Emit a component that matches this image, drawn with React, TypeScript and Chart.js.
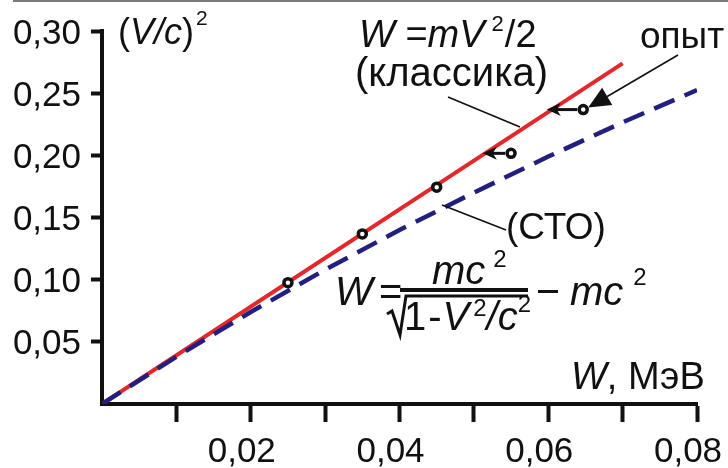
import React, { useEffect, useRef } from 'react';
import { Chart, registerables } from 'chart.js';

Chart.register(...registerables);

// ---- data ----
const classicW = [0, 0.07];
const classicV2 = [0, 0.274];

const relW = [0, 0.01, 0.02, 0.03, 0.04, 0.05, 0.06, 0.07, 0.08];
const relV2 = [0, 0.038, 0.074, 0.108, 0.14, 0.17, 0.199, 0.2265, 0.2525];

const expW = [0.025, 0.035, 0.045, 0.055, 0.0647];
const expV2 = [0.0976, 0.1368, 0.1744, 0.2016, 0.2368];
// where the shifted experimental points land (arrows), null = no arrow
const expShiftW: (number | null)[] = [null, null, null, 0.0512, 0.0598];

const xTickValues = [0.02, 0.04, 0.06, 0.08];

const FONT = '"Liberation Sans", Arial, Helvetica, sans-serif';
const font = (size: number, italic = false) => `${italic ? 'italic ' : ''}${size}px ${FONT}`;
const INK = '#111111';

type Run = { t: string; size: number; italic?: boolean; rise?: number; gap?: number };

function drawRuns(ctx: CanvasRenderingContext2D, x: number, y: number, runs: Run[]) {
  let cx = x;
  for (const r of runs) {
    cx += r.gap || 0;
    ctx.font = font(r.size, r.italic);
    ctx.fillText(r.t, cx, y - (r.rise || 0));
    cx += ctx.measureText(r.t).width;
  }
  return cx;
}

function line(ctx: CanvasRenderingContext2D, pts: number[][], w: number) {
  ctx.beginPath();
  ctx.moveTo(pts[0][0], pts[0][1]);
  for (let i = 1; i < pts.length; i++) ctx.lineTo(pts[i][0], pts[i][1]);
  ctx.lineWidth = w;
  ctx.stroke();
}

const annotationPlugin = {
  id: 'annotations',
  afterDatasetsDraw(chart: any) {
    const ctx: CanvasRenderingContext2D = chart.ctx;
    const xs = chart.scales.x;
    const ys = chart.scales.y;
    ctx.save();
    ctx.strokeStyle = INK;
    ctx.fillStyle = INK;
    // arrows from experimental points to the classical line
    expShiftW.forEach((tw, i) => {
      if (tw == null) return;
      const px = xs.getPixelForValue(expW[i]);
      const py = ys.getPixelForValue(expV2[i]);
      const tx = xs.getPixelForValue(tw);
      line(ctx, [[px - 6, py], [tx + 9, py]], 3);
      ctx.beginPath();
      ctx.moveTo(tx, py);
      ctx.lineTo(tx + 14, py - 6.5);
      ctx.lineTo(tx + 10, py);
      ctx.lineTo(tx + 14, py + 6.5);
      ctx.closePath();
      ctx.fill();
    });
    ctx.restore();
  },
  afterDraw(chart: any) {
    const ctx: CanvasRenderingContext2D = chart.ctx;
    const xs = chart.scales.x;
    const ys = chart.scales.y;
    ctx.save();
    ctx.fillStyle = '#7a7a7a';
    ctx.fillRect(13, 0, 715, 2);

    ctx.fillStyle = INK;
    ctx.strokeStyle = INK;
    ctx.textBaseline = 'alphabetic';
    ctx.textAlign = 'left';

    // y axis title
    drawRuns(ctx, 118, 44, [
      { t: '(', size: 36 },
      { t: 'V/c', size: 36, italic: true },
      { t: ')', size: 36 },
      { t: '2', size: 21, rise: 19, gap: 2 },
    ]);
    // x axis title
    drawRuns(ctx, 571, 389, [
      { t: 'W', size: 38, italic: true },
      { t: ', МэВ', size: 38 },
    ]);

    // classical label
    drawRuns(ctx, 359, 47, [
      { t: 'W', size: 38, italic: true },
      { t: ' =', size: 38 },
      { t: 'mV', size: 38, italic: true },
      { t: '2', size: 22, rise: 16, gap: 7 },
      { t: '/2', size: 38, gap: 1 },
    ]);
    drawRuns(ctx, 355, 86, [{ t: '(классика)', size: 40 }]);
    line(ctx, [[448, 97], [520, 127]], 1.6);

    // experiment label
    drawRuns(ctx, 640, 48, [{ t: 'опыт', size: 37 }]);
    {
      const px = xs.getPixelForValue(expW[4]);
      const py = ys.getPixelForValue(expV2[4]);
      const sx = 678, sy = 55;
      const tipX = px + 5, tipY = py - 2;
      const dx = tipX - sx, dy = tipY - sy;
      const L = Math.hypot(dx, dy);
      const ux = dx / L, uy = dy / L;
      const bx = tipX - ux * 22, by = tipY - uy * 22;
      line(ctx, [[sx, sy], [bx, by]], 1.6);
      ctx.beginPath();
      ctx.moveTo(tipX, tipY);
      ctx.lineTo(bx - uy * 10, by + ux * 10);
      ctx.lineTo(bx + uy * 10, by - ux * 10);
      ctx.closePath();
      ctx.fill();
    }

    // relativistic label
    drawRuns(ctx, 506, 239, [{ t: '(СТО)', size: 37 }]);
    line(ctx, [[442, 205], [506, 230]], 1.6);

    // formula
    drawRuns(ctx, 335, 305, [{ t: 'W', size: 40, italic: true }]);
    drawRuns(ctx, 379, 305, [{ t: '=', size: 40 }]);
    ctx.fillRect(400, 288, 128, 4);
    drawRuns(ctx, 432, 284, [
      { t: 'mc', size: 40, italic: true },
      { t: '2', size: 24, rise: 17, gap: 8 },
    ]);
    ctx.lineJoin = 'miter';
    line(ctx, [[387, 314], [392, 311], [400, 335], [406, 296], [528, 296]], 3);
    drawRuns(ctx, 404, 330, [
      { t: '1', size: 40 },
      { t: '-', size: 40, gap: 2 },
      { t: 'V', size: 40, italic: true, gap: 1 },
      { t: '2', size: 24, rise: 14, gap: 4 },
      { t: '/', size: 40, italic: true },
      { t: 'c', size: 40, italic: true },
      { t: '2', size: 24, rise: 18 },
    ]);
    ctx.fillRect(538, 290, 20, 3);
    drawRuns(ctx, 570, 305, [
      { t: 'mc', size: 40, italic: true },
      { t: '2', size: 24, rise: 20, gap: 10 },
    ]);
    ctx.restore();
  },
};

export default function App() {
  const ref = useRef<HTMLCanvasElement>(null);

  useEffect(() => {
    if (!ref.current) return;
    const chart = new Chart(ref.current, {
      type: 'scatter',
      data: {
        datasets: [
          {
            label: 'опыт',
            data: expW.map((x, i) => ({ x, y: expV2[i] })),
            showLine: false,
            pointRadius: 4,
            pointBorderWidth: 3.5,
            pointBorderColor: INK,
            pointBackgroundColor: '#ffffff',
            order: 0,
          },
          {
            label: 'СТО',
            data: relW.map((x, i) => ({ x, y: relV2[i] })),
            showLine: true,
            borderColor: '#231f7f',
            borderWidth: 4.5,
            borderDash: [22, 11],
            pointRadius: 0,
            order: 1,
          },
          {
            label: 'классика',
            data: classicW.map((x, i) => ({ x, y: classicV2[i] })),
            showLine: true,
            borderColor: '#e2282b',
            borderWidth: 4,
            pointRadius: 0,
            order: 2,
          },
        ],
      } as any,
      options: {
        responsive: false,
        animation: false,
        devicePixelRatio: 1,
        layout: { padding: { left: 0, top: 29, right: 31, bottom: 0 } },
        plugins: { legend: { display: false }, tooltip: { enabled: false } },
        scales: {
          x: {
            type: 'linear',
            min: 0,
            max: 0.08,
            afterFit: (s: any) => {
              s.height = 64;
              s.paddingLeft = 0;
              s.paddingRight = 0;
            },
            border: { display: true, color: INK, width: 4 },
            grid: {
              drawOnChartArea: false,
              drawTicks: true,
              tickLength: 18,
              tickWidth: 4,
              tickColor: (c: any) => (c.tick && c.tick.value === 0 ? 'rgba(0,0,0,0)' : INK),
            },
            ticks: {
              stepSize: 0.01,
              autoSkip: false,
              maxRotation: 0,
              minRotation: 0,
              padding: 9,
              labelOffset: -9,
              color: INK,
              font: { family: FONT, size: 35 },
              callback: (v: any) => {
                const n = Math.round(Number(v) * 100);
                const hit = xTickValues.some((t) => Math.round(t * 100) === n);
                return hit ? (n / 100).toFixed(2).replace('.', ',') : '';
              },
            },
          },
          y: {
            type: 'linear',
            min: 0,
            max: 0.3,
            afterFit: (s: any) => {
              s.width = 102;
            },
            border: { display: true, color: INK, width: 4 },
            grid: {
              drawOnChartArea: false,
              drawTicks: true,
              tickLength: 11,
              tickWidth: 4,
              tickColor: (c: any) => (c.tick && c.tick.value === 0 ? 'rgba(0,0,0,0)' : INK),
            },
            ticks: {
              stepSize: 0.05,
              padding: 10,
              labelOffset: 3,
              color: INK,
              font: { family: FONT, size: 35 },
              callback: (v: any) => (Number(v) === 0 ? '' : Number(v).toFixed(2).replace('.', ',')),
            },
          },
        },
      } as any,
      plugins: [annotationPlugin],
    });
    return () => chart.destroy();
  }, []);

  return (
    <div style={{ position: 'fixed', left: 0, top: 0, width: 728, height: 468, background: '#ffffff' }}>
      <canvas ref={ref} width={728} height={468} style={{ display: 'block' }} />
    </div>
  );
}
